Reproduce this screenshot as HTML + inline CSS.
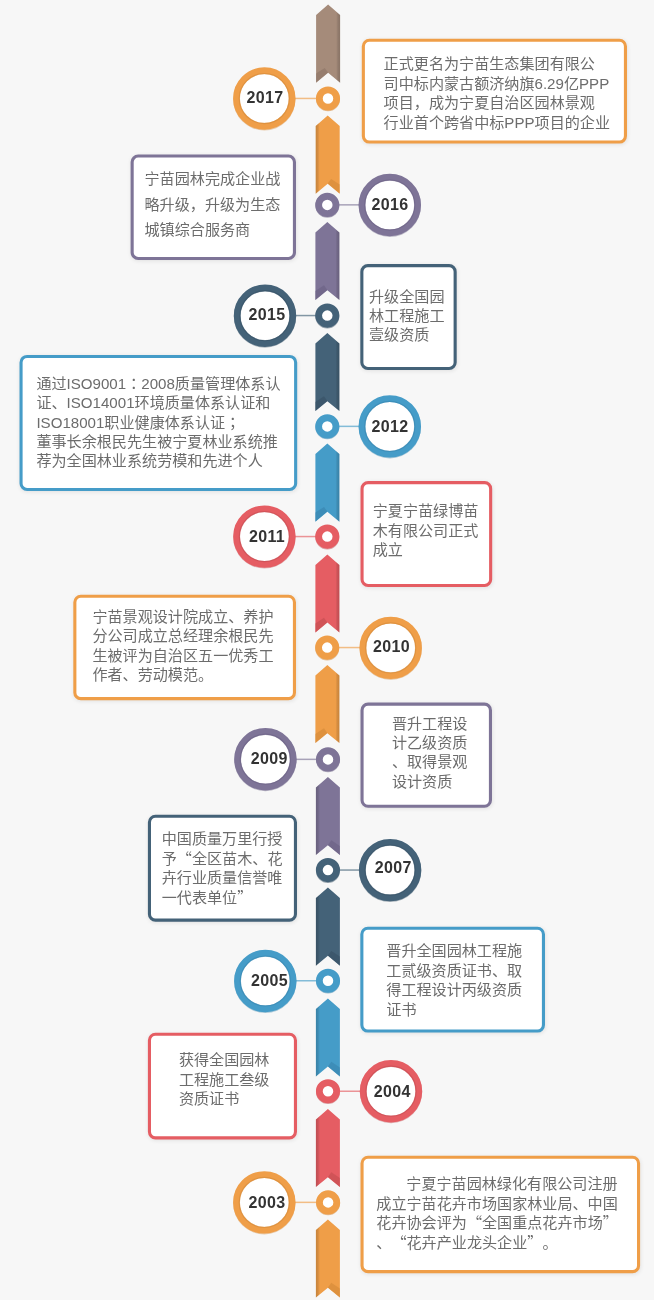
<!DOCTYPE html>
<html lang="zh"><head><meta charset="utf-8"><title>timeline</title>
<style>
html,body{margin:0;padding:0}
body{width:654px;height:1300px;background:#f7f7f7;position:relative;overflow:hidden;font-family:"Liberation Sans","Noto Sans CJK SC",sans-serif;}
.ln{position:absolute;white-space:nowrap;text-spacing-trim:space-all;font-kerning:none;font-size:15.1px;color:#6c6c6c;left:0;}
.q{font-family:"Noto Sans CJK SC",sans-serif;line-height:1px}
.j{font-family:"Noto Sans CJK JP",sans-serif;line-height:1px}
#w{position:absolute;left:0;top:0;width:654px;height:1300px;will-change:transform}
</style></head><body><div id="w">
<svg width="654" height="1300" viewBox="0 0 654 1300" style="position:absolute;left:0;top:0">
<defs><linearGradient id="gR" x1="0" y1="0" x2="1" y2="0"><stop offset="0" stop-color="#000" stop-opacity="0"/><stop offset="0.45" stop-color="#000" stop-opacity="0.11"/><stop offset="1" stop-color="#000" stop-opacity="0.17"/></linearGradient><linearGradient id="gL" x1="1" y1="0" x2="0" y2="0"><stop offset="0" stop-color="#000" stop-opacity="0"/><stop offset="0.45" stop-color="#000" stop-opacity="0.11"/><stop offset="1" stop-color="#000" stop-opacity="0.17"/></linearGradient><filter id="bl" x="-10%" y="-10%" width="120%" height="120%"><feGaussianBlur stdDeviation="2"/></filter></defs>
<path d="M316.1,15.1 L328.1,4.6 L340.1,15.1 L340.1,82.7 L328.1,72.8 L316.1,82.7 Z" fill="#a58b7a"/>
<path d="M316.1,73.6 L324.7,67.9 L328.1,72.6 L316.1,82.6 Z" fill="#8a7364" opacity="0.55"/>
<path d="M336.1,11.6 L340.1,15.1 L340.1,82.7 L336.1,79.3 Z" fill="url(#gR)"/>
<path d="M315.7,126.1 L327.7,115.6 L339.7,126.1 L339.7,193.7 L327.7,183.8 L315.7,193.7 Z" fill="#ef9e48"/>
<path d="M339.7,184.6 L331.1,178.9 L327.7,183.6 L339.7,193.6 Z" fill="#cf8636" opacity="0.55"/>
<path d="M319.7,122.6 L315.7,126.1 L315.7,193.7 L319.7,190.3 Z" fill="url(#gL)"/>
<path d="M315.4,232.5 L327.35,222.0 L339.4,232.5 L339.4,300.1 L327.35,290.2 L315.4,300.1 Z" fill="#7e7497"/>
<path d="M315.4,291.0 L324.0,285.3 L327.35,290.0 L315.4,300.0 Z" fill="#675e82" opacity="0.55"/>
<path d="M335.4,229.0 L339.4,232.5 L339.4,300.1 L335.4,296.7 Z" fill="url(#gR)"/>
<path d="M315.4,343.5 L327.35,333.0 L339.4,343.5 L339.4,411.1 L327.35,401.2 L315.4,411.1 Z" fill="#446278"/>
<path d="M315.4,402.0 L324.0,396.3 L327.35,401.0 L315.4,411.0 Z" fill="#364f63" opacity="0.55"/>
<path d="M335.4,340.0 L339.4,343.5 L339.4,411.1 L335.4,407.7 Z" fill="url(#gR)"/>
<path d="M315.4,454.1 L327.35,443.6 L339.4,454.1 L339.4,521.7 L327.35,511.8 L315.4,521.7 Z" fill="#459cc8"/>
<path d="M315.4,512.6 L324.0,506.9 L327.35,511.6 L315.4,521.6 Z" fill="#3682ab" opacity="0.55"/>
<path d="M335.4,450.6 L339.4,454.1 L339.4,521.7 L335.4,518.3 Z" fill="url(#gR)"/>
<path d="M315.4,564.9 L327.35,554.4 L339.4,564.9 L339.4,632.5 L327.35,622.6 L315.4,632.5 Z" fill="#e55d63"/>
<path d="M315.4,623.4 L324.0,617.7 L327.35,622.4 L315.4,632.4 Z" fill="#bf4a4f" opacity="0.55"/>
<path d="M335.4,561.4 L339.4,564.9 L339.4,632.5 L335.4,629.1 Z" fill="url(#gR)"/>
<path d="M315.4,675.5 L327.35,665.0 L339.4,675.5 L339.4,743.1 L327.35,733.2 L315.4,743.1 Z" fill="#ef9e48"/>
<path d="M315.4,734.0 L324.0,728.3 L327.35,733.0 L315.4,743.0 Z" fill="#cf8636" opacity="0.55"/>
<path d="M335.4,672.0 L339.4,675.5 L339.4,743.1 L335.4,739.7 Z" fill="url(#gR)"/>
<path d="M315.9,787.5 L327.9,777.0 L339.9,787.5 L339.9,855.1 L327.9,845.2 L315.9,855.1 Z" fill="#7e7497"/>
<path d="M339.9,846.0 L331.3,840.3 L327.9,845.0 L339.9,855.0 Z" fill="#675e82" opacity="0.55"/>
<path d="M319.9,784.0 L315.9,787.5 L315.9,855.1 L319.9,851.7 Z" fill="url(#gL)"/>
<path d="M315.9,898.1 L327.9,887.6 L339.9,898.1 L339.9,965.7 L327.9,955.8 L315.9,965.7 Z" fill="#446278"/>
<path d="M339.9,956.6 L331.3,950.9 L327.9,955.6 L339.9,965.6 Z" fill="#364f63" opacity="0.55"/>
<path d="M319.9,894.6 L315.9,898.1 L315.9,965.7 L319.9,962.3 Z" fill="url(#gL)"/>
<path d="M315.9,1008.9 L327.9,998.4 L339.9,1008.9 L339.9,1076.5 L327.9,1066.6 L315.9,1076.5 Z" fill="#459cc8"/>
<path d="M339.9,1067.4 L331.3,1061.7 L327.9,1066.4 L339.9,1076.4 Z" fill="#3682ab" opacity="0.55"/>
<path d="M319.9,1005.4 L315.9,1008.9 L315.9,1076.5 L319.9,1073.1 Z" fill="url(#gL)"/>
<path d="M315.9,1119.5 L327.9,1109.0 L339.9,1119.5 L339.9,1187.1 L327.9,1177.2 L315.9,1187.1 Z" fill="#e55d63"/>
<path d="M339.9,1178.0 L331.3,1172.3 L327.9,1177.0 L339.9,1187.0 Z" fill="#bf4a4f" opacity="0.55"/>
<path d="M319.9,1116.0 L315.9,1119.5 L315.9,1187.1 L319.9,1183.7 Z" fill="url(#gL)"/>
<path d="M315.9,1230.0 L327.9,1219.5 L339.9,1230.0 L339.9,1297.6 L327.9,1287.7 L315.9,1297.6 Z" fill="#ef9e48"/>
<path d="M339.9,1288.5 L331.3,1282.8 L327.9,1287.5 L339.9,1297.5 Z" fill="#cf8636" opacity="0.55"/>
<path d="M319.9,1226.5 L315.9,1230.0 L315.9,1297.6 L319.9,1294.2 Z" fill="url(#gL)"/>
<rect x="294.5" y="97.7" width="22.5" height="1.5" fill="#ef9e48" opacity="0.65"/>
<circle cx="328.0" cy="99.3" r="12" fill="#cf8636" opacity="0.5"/>
<circle cx="328.0" cy="98.5" r="8.65" fill="#fff" stroke="#ef9e48" stroke-width="6.8"/>
<circle cx="264.3" cy="99.3" r="31.2" fill="#cf8636" opacity="0.4"/>
<circle cx="264.3" cy="98.55" r="27.85" fill="#fff" stroke="#ef9e48" stroke-width="6.7"/>
<circle cx="264.3" cy="98.55" r="24.95" fill="none" stroke="#cf8636" stroke-width="1.3" opacity="0.5"/>
<text x="265.0" y="103" text-anchor="middle" font-family="Liberation Sans, sans-serif" font-weight="bold" font-size="16" letter-spacing="0.35" fill="#333">2017</text>
<rect x="338.3" y="204.1" width="21.3" height="1.5" fill="#7e7497" opacity="0.65"/>
<circle cx="327.3" cy="205.7" r="12" fill="#675e82" opacity="0.5"/>
<circle cx="327.3" cy="204.9" r="8.65" fill="#fff" stroke="#7e7497" stroke-width="6.8"/>
<circle cx="389.8" cy="205.8" r="31.2" fill="#675e82" opacity="0.4"/>
<circle cx="389.8" cy="205.0" r="27.85" fill="#fff" stroke="#7e7497" stroke-width="6.7"/>
<circle cx="389.8" cy="205.0" r="24.95" fill="none" stroke="#675e82" stroke-width="1.3" opacity="0.5"/>
<text x="390.1" y="210" text-anchor="middle" font-family="Liberation Sans, sans-serif" font-weight="bold" font-size="16" letter-spacing="0.35" fill="#333">2016</text>
<rect x="295.2" y="314.8" width="21.1" height="1.5" fill="#446278" opacity="0.65"/>
<circle cx="327.3" cy="316.4" r="12" fill="#364f63" opacity="0.5"/>
<circle cx="327.3" cy="315.6" r="8.65" fill="#fff" stroke="#446278" stroke-width="6.8"/>
<circle cx="265.0" cy="316.5" r="31.2" fill="#364f63" opacity="0.4"/>
<circle cx="265.0" cy="315.7" r="27.85" fill="#fff" stroke="#446278" stroke-width="6.7"/>
<circle cx="265.0" cy="315.7" r="24.95" fill="none" stroke="#364f63" stroke-width="1.3" opacity="0.5"/>
<text x="267.1" y="320" text-anchor="middle" font-family="Liberation Sans, sans-serif" font-weight="bold" font-size="16" letter-spacing="0.35" fill="#333">2015</text>
<rect x="338.3" y="425.6" width="21.3" height="1.5" fill="#459cc8" opacity="0.65"/>
<circle cx="327.3" cy="427.2" r="12" fill="#3682ab" opacity="0.5"/>
<circle cx="327.3" cy="426.4" r="8.65" fill="#fff" stroke="#459cc8" stroke-width="6.8"/>
<circle cx="389.8" cy="427.2" r="31.2" fill="#3682ab" opacity="0.4"/>
<circle cx="389.8" cy="426.4" r="27.85" fill="#fff" stroke="#459cc8" stroke-width="6.7"/>
<circle cx="389.8" cy="426.4" r="24.95" fill="none" stroke="#3682ab" stroke-width="1.3" opacity="0.5"/>
<text x="390.1" y="432" text-anchor="middle" font-family="Liberation Sans, sans-serif" font-weight="bold" font-size="16" letter-spacing="0.35" fill="#333">2012</text>
<rect x="294.6" y="535.8" width="21.7" height="1.5" fill="#e55d63" opacity="0.65"/>
<circle cx="327.3" cy="537.4" r="12" fill="#bf4a4f" opacity="0.5"/>
<circle cx="327.3" cy="536.6" r="8.65" fill="#fff" stroke="#e55d63" stroke-width="6.8"/>
<circle cx="264.4" cy="537.4" r="31.2" fill="#bf4a4f" opacity="0.4"/>
<circle cx="264.4" cy="536.6" r="27.85" fill="#fff" stroke="#e55d63" stroke-width="6.7"/>
<circle cx="264.4" cy="536.6" r="24.95" fill="none" stroke="#bf4a4f" stroke-width="1.3" opacity="0.5"/>
<text x="267.0" y="542" text-anchor="middle" font-family="Liberation Sans, sans-serif" font-weight="bold" font-size="16" letter-spacing="0.35" fill="#333">2011</text>
<rect x="338.2" y="646.8" width="22.3" height="1.5" fill="#ef9e48" opacity="0.65"/>
<circle cx="327.2" cy="648.4" r="12" fill="#cf8636" opacity="0.5"/>
<circle cx="327.2" cy="647.6" r="8.65" fill="#fff" stroke="#ef9e48" stroke-width="6.8"/>
<circle cx="390.7" cy="648.7" r="31.2" fill="#cf8636" opacity="0.4"/>
<circle cx="390.7" cy="647.9" r="27.85" fill="#fff" stroke="#ef9e48" stroke-width="6.7"/>
<circle cx="390.7" cy="647.9" r="24.95" fill="none" stroke="#cf8636" stroke-width="1.3" opacity="0.5"/>
<text x="391.4" y="652" text-anchor="middle" font-family="Liberation Sans, sans-serif" font-weight="bold" font-size="16" letter-spacing="0.35" fill="#333">2010</text>
<rect x="295.6" y="758.6" width="21.4" height="1.5" fill="#7e7497" opacity="0.65"/>
<circle cx="328.0" cy="760.2" r="12" fill="#675e82" opacity="0.5"/>
<circle cx="328.0" cy="759.4" r="8.65" fill="#fff" stroke="#7e7497" stroke-width="6.8"/>
<circle cx="265.4" cy="760.0" r="31.2" fill="#675e82" opacity="0.4"/>
<circle cx="265.4" cy="759.2" r="27.85" fill="#fff" stroke="#7e7497" stroke-width="6.7"/>
<circle cx="265.4" cy="759.2" r="24.95" fill="none" stroke="#675e82" stroke-width="1.3" opacity="0.5"/>
<text x="269.2" y="764" text-anchor="middle" font-family="Liberation Sans, sans-serif" font-weight="bold" font-size="16" letter-spacing="0.35" fill="#333">2009</text>
<rect x="338.9" y="869.3" width="21.0" height="1.5" fill="#446278" opacity="0.65"/>
<circle cx="327.95" cy="870.9" r="12" fill="#364f63" opacity="0.5"/>
<circle cx="327.95" cy="870.1" r="8.65" fill="#fff" stroke="#446278" stroke-width="6.8"/>
<circle cx="390.1" cy="870.9" r="31.2" fill="#364f63" opacity="0.4"/>
<circle cx="390.1" cy="870.1" r="27.85" fill="#fff" stroke="#446278" stroke-width="6.7"/>
<circle cx="390.1" cy="870.1" r="24.95" fill="none" stroke="#364f63" stroke-width="1.3" opacity="0.5"/>
<text x="393.2" y="873" text-anchor="middle" font-family="Liberation Sans, sans-serif" font-weight="bold" font-size="16" letter-spacing="0.35" fill="#333">2007</text>
<rect x="295.5" y="980.0" width="21.5" height="1.5" fill="#459cc8" opacity="0.65"/>
<circle cx="328.0" cy="981.6" r="12" fill="#3682ab" opacity="0.5"/>
<circle cx="328.0" cy="980.8" r="8.65" fill="#fff" stroke="#459cc8" stroke-width="6.8"/>
<circle cx="265.3" cy="981.8" r="31.2" fill="#3682ab" opacity="0.4"/>
<circle cx="265.3" cy="981.0" r="27.85" fill="#fff" stroke="#459cc8" stroke-width="6.7"/>
<circle cx="265.3" cy="981.0" r="24.95" fill="none" stroke="#3682ab" stroke-width="1.3" opacity="0.5"/>
<text x="269.4" y="986" text-anchor="middle" font-family="Liberation Sans, sans-serif" font-weight="bold" font-size="16" letter-spacing="0.35" fill="#333">2005</text>
<rect x="339.0" y="1090.5" width="21.8" height="1.5" fill="#e55d63" opacity="0.65"/>
<circle cx="328.0" cy="1092.1" r="12" fill="#bf4a4f" opacity="0.5"/>
<circle cx="328.0" cy="1091.3" r="8.65" fill="#fff" stroke="#e55d63" stroke-width="6.8"/>
<circle cx="391.0" cy="1092.0" r="31.2" fill="#bf4a4f" opacity="0.4"/>
<circle cx="391.0" cy="1091.2" r="27.85" fill="#fff" stroke="#e55d63" stroke-width="6.7"/>
<circle cx="391.0" cy="1091.2" r="24.95" fill="none" stroke="#bf4a4f" stroke-width="1.3" opacity="0.5"/>
<text x="392.3" y="1097" text-anchor="middle" font-family="Liberation Sans, sans-serif" font-weight="bold" font-size="16" letter-spacing="0.35" fill="#333">2004</text>
<rect x="294.5" y="1201.6" width="22.6" height="1.5" fill="#ef9e48" opacity="0.65"/>
<circle cx="328.1" cy="1203.2" r="12" fill="#cf8636" opacity="0.5"/>
<circle cx="328.1" cy="1202.4" r="8.65" fill="#fff" stroke="#ef9e48" stroke-width="6.8"/>
<circle cx="264.3" cy="1203.2" r="31.2" fill="#cf8636" opacity="0.4"/>
<circle cx="264.3" cy="1202.4" r="27.85" fill="#fff" stroke="#ef9e48" stroke-width="6.7"/>
<circle cx="264.3" cy="1202.4" r="24.95" fill="none" stroke="#cf8636" stroke-width="1.3" opacity="0.5"/>
<text x="267.1" y="1208" text-anchor="middle" font-family="Liberation Sans, sans-serif" font-weight="bold" font-size="16" letter-spacing="0.35" fill="#333">2003</text>
<rect x="362.30" y="39.70" width="265.20" height="104.90" rx="7" ry="7" fill="#000" opacity="0.09" filter="url(#bl)"/>
<rect x="363.35" y="40.25" width="262.10" height="101.80" rx="6" ry="6" fill="#fff" stroke="#ef9e48" stroke-width="3.1"/>
<rect x="131.10" y="155.50" width="165.40" height="105.50" rx="7" ry="7" fill="#000" opacity="0.09" filter="url(#bl)"/>
<rect x="132.15" y="156.05" width="162.30" height="102.40" rx="6" ry="6" fill="#fff" stroke="#7e7497" stroke-width="3.1"/>
<rect x="360.80" y="265.10" width="96.40" height="105.90" rx="7" ry="7" fill="#000" opacity="0.09" filter="url(#bl)"/>
<rect x="361.85" y="265.65" width="93.30" height="102.80" rx="6" ry="6" fill="#fff" stroke="#446278" stroke-width="3.1"/>
<rect x="20.00" y="355.90" width="277.70" height="136.10" rx="7" ry="7" fill="#000" opacity="0.09" filter="url(#bl)"/>
<rect x="21.05" y="356.45" width="274.60" height="133.00" rx="6" ry="6" fill="#fff" stroke="#459cc8" stroke-width="3.1"/>
<rect x="361.00" y="482.10" width="131.70" height="105.90" rx="7" ry="7" fill="#000" opacity="0.09" filter="url(#bl)"/>
<rect x="362.05" y="482.65" width="128.60" height="102.80" rx="6" ry="6" fill="#fff" stroke="#e55d63" stroke-width="3.1"/>
<rect x="73.80" y="595.70" width="222.70" height="105.50" rx="7" ry="7" fill="#000" opacity="0.09" filter="url(#bl)"/>
<rect x="74.85" y="596.25" width="219.60" height="102.40" rx="6" ry="6" fill="#fff" stroke="#ef9e48" stroke-width="3.1"/>
<rect x="361.00" y="703.60" width="131.50" height="105.20" rx="7" ry="7" fill="#000" opacity="0.09" filter="url(#bl)"/>
<rect x="362.05" y="704.15" width="128.40" height="102.10" rx="6" ry="6" fill="#fff" stroke="#7e7497" stroke-width="3.1"/>
<rect x="148.40" y="815.70" width="149.10" height="107.00" rx="7" ry="7" fill="#000" opacity="0.09" filter="url(#bl)"/>
<rect x="149.45" y="816.25" width="146.00" height="103.90" rx="6" ry="6" fill="#fff" stroke="#446278" stroke-width="3.1"/>
<rect x="360.80" y="927.70" width="184.70" height="105.90" rx="7" ry="7" fill="#000" opacity="0.09" filter="url(#bl)"/>
<rect x="361.85" y="928.25" width="181.60" height="102.80" rx="6" ry="6" fill="#fff" stroke="#459cc8" stroke-width="3.1"/>
<rect x="148.40" y="1033.70" width="149.10" height="106.70" rx="7" ry="7" fill="#000" opacity="0.09" filter="url(#bl)"/>
<rect x="149.45" y="1034.25" width="146.00" height="103.60" rx="6" ry="6" fill="#fff" stroke="#e55d63" stroke-width="3.1"/>
<rect x="361.00" y="1156.70" width="279.60" height="117.50" rx="7" ry="7" fill="#000" opacity="0.09" filter="url(#bl)"/>
<rect x="362.05" y="1157.25" width="276.50" height="114.40" rx="6" ry="6" fill="#fff" stroke="#ef9e48" stroke-width="3.1"/>
</svg>
<div class="ln" style="left:383.6px;top:54px;height:20px;line-height:20px">正式更名为宁苗生态集团有限公</div>
<div class="ln" style="left:383.6px;top:74px;height:20px;line-height:20px">司中标内蒙古额济纳旗6.29亿PPP</div>
<div class="ln" style="left:383.6px;top:93px;height:20px;line-height:20px">项目，成为宁夏自治区园林景观</div>
<div class="ln" style="left:383.6px;top:113px;height:20px;line-height:20px">行业首个跨省中标PPP项目的企业</div>
<div class="ln" style="left:144.5px;top:169px;height:20px;line-height:20px">宁苗园林完成企业战</div>
<div class="ln" style="left:144.5px;top:195px;height:20px;line-height:20px">略升级，升级为生态</div>
<div class="ln" style="left:144.5px;top:220px;height:20px;line-height:20px">城镇综合服务商</div>
<div class="ln" style="left:369.0px;top:287px;height:20px;line-height:20px">升级全国园</div>
<div class="ln" style="left:369.0px;top:306px;height:20px;line-height:20px">林工程施工</div>
<div class="ln" style="left:369.0px;top:325px;height:20px;line-height:20px">壹级资质</div>
<div class="ln" style="left:36.4px;top:374px;height:20px;line-height:20px">通过ISO9001<span class="j" lang="ja">：</span>2008质量管理体系认</div>
<div class="ln" style="left:36.4px;top:393px;height:20px;line-height:20px">证、ISO14001环境质量体系认证和</div>
<div class="ln" style="left:36.4px;top:413px;height:20px;line-height:20px">ISO18001职业健康体系认证<span class="j" lang="ja">；</span></div>
<div class="ln" style="left:36.4px;top:432px;height:20px;line-height:20px">董事长余根民先生被宁夏林业系统推</div>
<div class="ln" style="left:36.4px;top:451px;height:20px;line-height:20px">荐为全国林业系统劳模和先进个人</div>
<div class="ln" style="left:372.7px;top:501px;height:20px;line-height:20px">宁夏宁苗绿博苗</div>
<div class="ln" style="left:372.7px;top:521px;height:20px;line-height:20px">木有限公司正式</div>
<div class="ln" style="left:372.7px;top:540px;height:20px;line-height:20px">成立</div>
<div class="ln" style="left:92.4px;top:607px;height:20px;line-height:20px">宁苗景观设计院成立、养护</div>
<div class="ln" style="left:92.4px;top:626px;height:20px;line-height:20px">分公司成立总经理余根民先</div>
<div class="ln" style="left:92.4px;top:646px;height:20px;line-height:20px">生被评为自治区五一优秀工</div>
<div class="ln" style="left:92.4px;top:665px;height:20px;line-height:20px">作者、劳动模范。</div>
<div class="ln" style="left:391.9px;top:714px;height:20px;line-height:20px">晋升工程设</div>
<div class="ln" style="left:391.9px;top:733px;height:20px;line-height:20px">计乙级资质</div>
<div class="ln" style="left:391.9px;top:752px;height:20px;line-height:20px">、取得景观</div>
<div class="ln" style="left:391.9px;top:772px;height:20px;line-height:20px">设计资质</div>
<div class="ln" style="left:161.7px;top:829px;height:20px;line-height:20px">中国质量万里行授</div>
<div class="ln" style="left:161.7px;top:849px;height:20px;line-height:20px">予<span class="q">“</span>全区苗木、花</div>
<div class="ln" style="left:161.7px;top:868px;height:20px;line-height:20px">卉行业质量信誉唯</div>
<div class="ln" style="left:161.7px;top:888px;height:20px;line-height:20px">一代表单位<span class="q">”</span></div>
<div class="ln" style="left:386.3px;top:941px;height:20px;line-height:20px">晋升全国园林工程施</div>
<div class="ln" style="left:386.3px;top:961px;height:20px;line-height:20px">工贰级资质证书、取</div>
<div class="ln" style="left:386.3px;top:980px;height:20px;line-height:20px">得工程设计丙级资质</div>
<div class="ln" style="left:386.3px;top:1000px;height:20px;line-height:20px">证书</div>
<div class="ln" style="left:178.9px;top:1050px;height:20px;line-height:20px">获得全国园林</div>
<div class="ln" style="left:178.9px;top:1070px;height:20px;line-height:20px">工程施工叁级</div>
<div class="ln" style="left:178.9px;top:1089px;height:20px;line-height:20px">资质证书</div>
<div class="ln" style="left:376.3px;top:1174px;height:20px;line-height:20px"><span style="padding-left:30px"></span>宁夏宁苗园林绿化有限公司注册</div>
<div class="ln" style="left:376.3px;top:1194px;height:20px;line-height:20px">成立宁苗花卉市场国家林业局、中国</div>
<div class="ln" style="left:376.3px;top:1213px;height:20px;line-height:20px">花卉协会评为<span class="q">“</span>全国重点花卉市场<span class="q">”</span></div>
<div class="ln" style="left:376.3px;top:1233px;height:20px;line-height:20px">、<span class="q">“</span>花卉产业龙头企业<span class="q">”</span>。</div>
</div></body></html>
